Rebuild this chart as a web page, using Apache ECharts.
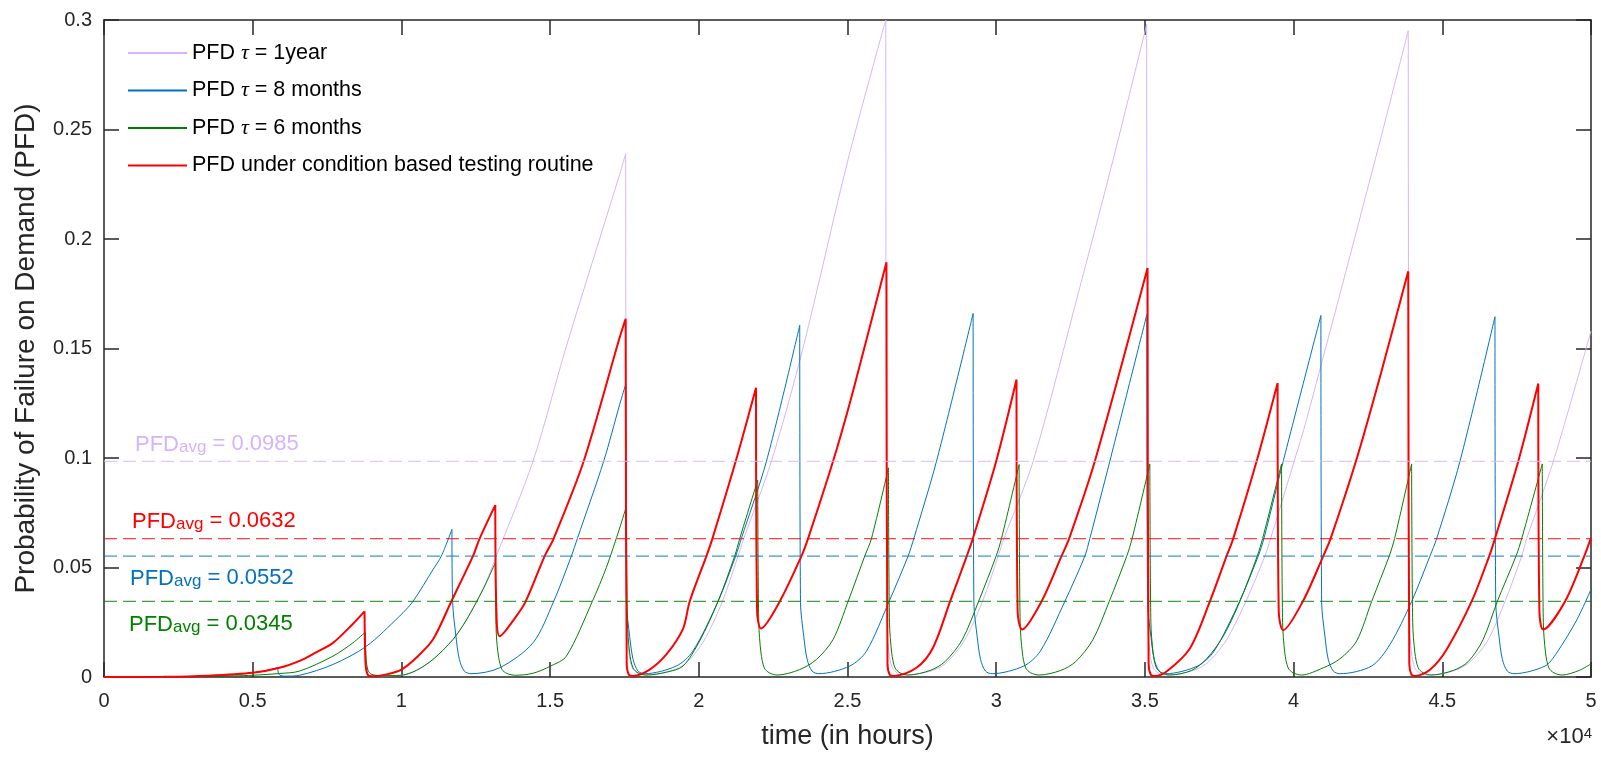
<!DOCTYPE html>
<html>
<head>
<meta charset="utf-8">
<title>PFD</title>
<script src="https://cdn.jsdelivr.net/npm/echarts@6/dist/echarts.min.js"></script>
<style>
html, body { margin: 0; padding: 0; background: #fff; }
#main { width: 1601px; height: 757px; }
</style>
</head>
<body>
<div id="main"></div>
<script>
// time in hours, PFD values
// '-' breaks the line at each test so the smoothing does not round the peaks
var lavenderData = [
	[0,0],[2000,0.0001],[3500,0.0006],[5000,0.0019],[5900,0.0042],[6600,0.0075],[7100,0.011],[7700,0.0156],[8350,0.024],[8760,0.030],[8760,'-'],
	[8760,0.030],[8795,0.008],[8870,0.003],[9000,0.0012],[9300,0.0006],
	[9996,0.0008],[10500,0.003],[11060,0.008],[11733,0.0171],[12183,0.026],[12743,0.040],[13190,0.0552],[14424,0.0985],[15547,0.151],[17339,0.2295],[17541,0.2389],[17541,'-'],
	[17541,0.2389],[17576,0.025],[17650,0.011],[17760,0.0042],[17930,0.0019],[18210,0.0009],
	[19000,0.0025],[19541,0.006],[20150,0.016],[20793,0.0345],[21319,0.0552],[21510,0.0632],[22442,0.0985],[23500,0.150],[25019,0.2363],[26287,0.300],[26287,'-'],
	[26287,0.300],[26322,0.025],[26397,0.011],[26507,0.0042],[26677,0.0019],[26957,0.0009],
	[27740,0.0025],[28280,0.006],[28900,0.016],[29540,0.0345],[30066,0.0552],[30257,0.0632],[31242,0.0985],[32812,0.178],[33933,0.2363],[35060,0.298],[35060,'-'],
	[35060,0.298],[35095,0.025],[35170,0.011],[35280,0.0042],[35450,0.0019],[35730,0.0009],
	[36510,0.0025],[37060,0.006],[37700,0.016],[38395,0.0345],[39034,0.0552],[39226,0.0632],[40020,0.0985],[40437,0.1176],[42745,0.2363],[43855,0.2951],[43855,'-'],
	[43855,0.2951],[43890,0.025],[43965,0.011],[44075,0.0042],[44245,0.0019],[44525,0.0009],
	[45300,0.0025],[45855,0.006],[46500,0.016],[47108,0.0345],[47670,0.0552],[47838,0.0632],[48734,0.0985],[50000,0.158]
];

var blueData = [
	[0,0],[3000,0.0002],[4500,0.0012],[5300,0.0025],[5840,0.0042],[5840,'-'],
	[5840,0.0042],[5870,0.0015],[5950,0.0006],[6100,0.0004],
	[6576,0.0008],[7696,0.0057],[8819,0.014],[9939,0.0278],[10387,0.0345],[11060,0.049],[11342,0.0552],[11699,0.0674],[11699,'-'],
	[11699,0.0674],[11724,0.034],[11834,0.0186],[11949,0.008],[12114,0.0027],[12339,0.0015],
	[13303,0.0042],[14424,0.0156],[15120,0.0345],[15714,0.0552],[15916,0.0632],[16801,0.0985],[17339,0.1244],[17541,0.1336],[17541,'-'],
	[17541,0.1336],[17566,0.034],[17676,0.0186],[17791,0.008],[17956,0.0027],[18181,0.0015],
	[19241,0.005],[19801,0.0118],[20646,0.0345],[21240,0.0552],[21430,0.0632],[22274,0.0985],[23394,0.1606],[23394,'-'],
	[23394,0.1606],[23419,0.034],[23529,0.0186],[23644,0.008],[23809,0.0027],[24034,0.0015],
	[25077,0.005],[25637,0.0118],[26398,0.0345],[27037,0.0552],[27229,0.0632],[27992,0.0985],[29224,0.166],[29224,'-'],
	[29224,0.166],[29249,0.034],[29359,0.0186],[29474,0.008],[29639,0.0027],[29864,0.0015],
	[30924,0.005],[31484,0.0118],[32307,0.0345],[32980,0.0552],[33148,0.0632],[33820,0.0985],[35066,0.1655],[35066,'-'],
	[35066,0.1655],[35091,0.034],[35201,0.0186],[35316,0.008],[35481,0.0027],[35706,0.0015],
	[36766,0.005],[37326,0.0118],[38180,0.0345],[38810,0.0552],[39001,0.0632],[39650,0.0985],[40918,0.1651],[40918,'-'],
	[40918,0.1651],[40943,0.034],[41054,0.0186],[41166,0.008],[41334,0.0027],[41558,0.0015],
	[42620,0.005],[43239,0.0148],[43969,0.0345],[44585,0.0552],[44810,0.0632],[45594,0.0985],[46771,0.1645],[46771,'-'],
	[46771,0.1645],[46796,0.034],[46906,0.0186],[47021,0.008],[47186,0.0027],[47411,0.0015],
	[48454,0.005],[48846,0.011],[49519,0.026],[50000,0.040]
];

var greenData = [
	[0,0],[3000,0.0002],[4380,0.0005],[5000,0.0008],[5900,0.0016],[6576,0.0027],[7696,0.0095],[8369,0.0156],[8786,0.0205],[8786,'-'],
	[8786,0.0205],[8815,0.008],[8880,0.003],[9000,0.0012],[9300,0.0006],
	[9996,0.0008],[10500,0.003],[11060,0.008],[11733,0.0171],[12183,0.026],[12743,0.040],[13157,0.0521],[13157,'-'],
	[13157,0.0521],[13190,0.02],[13270,0.009],[13380,0.0035],[13550,0.0016],[13830,0.0008],
	[14424,0.0017],[15019,0.005],[15547,0.0095],[16420,0.0345],[16891,0.050],[17339,0.068],[17564,0.078],[17564,'-'],
	[17564,0.078],[17600,0.025],[17675,0.011],[17785,0.0042],[17955,0.0019],[18235,0.0009],
	[18909,0.0022],[19469,0.005],[20030,0.0165],[20646,0.0345],[21207,0.0552],[21376,0.0632],[21981,0.0899],[21981,'-'],
	[21981,0.0899],[22016,0.025],[22091,0.011],[22201,0.0042],[22371,0.0019],[22651,0.0009],
	[23394,0.0034],[23955,0.008],[24514,0.0171],[25019,0.0345],[25580,0.0552],[25805,0.0632],[26377,0.0955],[26377,'-'],
	[26377,0.0955],[26412,0.025],[26487,0.011],[26597,0.0042],[26767,0.0019],[27047,0.0009],
	[27777,0.003],[28277,0.007],[28857,0.017],[29407,0.0345],[29997,0.0552],[30177,0.0632],[30770,0.097],[30770,'-'],
	[30770,0.097],[30805,0.025],[30880,0.011],[30990,0.0042],[31160,0.0019],[31440,0.0009],
	[32170,0.003],[32670,0.007],[33250,0.017],[33800,0.0345],[34390,0.0552],[34570,0.0632],[35166,0.0973],[35166,'-'],
	[35166,0.0973],[35201,0.025],[35276,0.011],[35386,0.0042],[35556,0.0019],[35836,0.0009],
	[36570,0.003],[37073,0.0083],[37633,0.0186],[38194,0.0345],[38777,0.0552],[38957,0.0632],[39595,0.0973],[39595,'-'],
	[39595,0.0973],[39630,0.025],[39705,0.011],[39815,0.0042],[39985,0.0019],[40265,0.0009],
	[40997,0.0042],[41558,0.0083],[42118,0.0164],[42625,0.0345],[43215,0.0552],[43395,0.0632],[43969,0.0973],[43969,'-'],
	[43969,0.0973],[44004,0.025],[44079,0.011],[44189,0.0042],[44359,0.0019],[44639,0.0009],
	[45369,0.003],[45869,0.007],[46369,0.017],[46849,0.0345],[47478,0.0552],[47670,0.0632],[48362,0.0973],[48362,'-'],
	[48362,0.0973],[48397,0.025],[48472,0.011],[48582,0.0042],[48752,0.0019],[49032,0.0009],
	[49600,0.003],[50000,0.006]
];

var redData = [
	[0,0],[2000,0.0001],[3500,0.0006],[5000,0.0019],[5900,0.0042],[6600,0.0075],[7100,0.011],[7700,0.0156],[8350,0.024],[8760,0.030],[8760,'-'],
	[8760,0.030],[8795,0.006],[8870,0.001],[9000,0.0003],
	[9500,0.0012],[10000,0.0034],[10500,0.0088],[11060,0.0171],[11678,0.0345],[12405,0.0552],[12630,0.0632],[13157,0.0785],[13157,'-'],
	[13157,0.0785],[13195,0.030],[13303,0.0186],[13865,0.0278],[14178,0.0345],[14817,0.0552],[15120,0.0632],[16129,0.0985],[17339,0.155],[17541,0.1636],[17541,'-'],
	[17541,0.1636],[17576,0.006],[17650,0.001],[17790,0.0005],
	[18348,0.0034],[18909,0.0103],[19469,0.022],[19694,0.0345],[20256,0.0552],[20457,0.0632],[21241,0.0985],[21924,0.1321],[21924,'-'],
	[21924,0.1321],[21960,0.030],[22092,0.0222],[22721,0.0345],[23451,0.0552],[23673,0.0632],[24514,0.0985],[25077,0.125],[25637,0.154],[26310,0.1894],[26310,'-'],
	[26310,0.1894],[26345,0.006],[26420,0.001],[26560,0.0005],
	[27319,0.0042],[27879,0.0135],[28450,0.0345],[29010,0.0552],[29215,0.0632],[30000,0.0985],[30683,0.1358],[30683,'-'],
	[30683,0.1358],[30720,0.030],[30871,0.0217],[31523,0.0345],[32196,0.0552],[32452,0.0632],[33316,0.0985],[35089,0.1868],[35089,'-'],
	[35089,0.1868],[35124,0.006],[35200,0.001],[35340,0.0005],
	[35729,0.0025],[36512,0.013],[37185,0.0345],[37746,0.0552],[37970,0.0632],[38756,0.0985],[39462,0.1343],[39462,'-'],
	[39462,0.1343],[39500,0.030],[39651,0.0214],[40310,0.0345],[40997,0.0552],[41244,0.0632],[42096,0.0985],[42903,0.137],[43855,0.1853],[43855,'-'],
	[43855,0.1853],[43890,0.006],[43965,0.001],[44100,0.0005],
	[44585,0.0033],[45146,0.0126],[45986,0.0345],[46578,0.0552],[46771,0.0632],[47555,0.0985],[48227,0.134],[48227,'-'],
	[48227,0.134],[48265,0.030],[48395,0.0217],[49126,0.0345],[49775,0.0552],[50000,0.0635]
];

var seriesNames = ['PFD \u03c4 = 1year', 'PFD \u03c4 = 8 months', 'PFD \u03c4 = 6 months', 'PFD under condition based testing routine'];
var seriesColors = ['#d4b4ff', '#0072bd', '#008000', '#ff0000'];

// average PFD lines, same order as the series
var avgValues = [0.0985, 0.0552, 0.0345, 0.0632];
var avgLabels = ['0.0985', '0.0552', '0.0345', '0.0632'];

var xTickLabels = ['0', '0.5', '1', '1.5', '2', '2.5', '3', '3.5', '4', '4.5', '5'];
var yTickLabels = ['0', '0.05', '0.1', '0.15', '0.2', '0.25', '0.3'];

var fontFam = "'Liberation Sans', Arial, Helvetica, sans-serif";
var axisColor = '#262626';

var myChart = echarts.init(document.getElementById('main'), null, {renderer: 'canvas'});

var lineData = [lavenderData, blueData, greenData, redData];
var series = [];
for (var i = 0; i < lineData.length; i++) {
	series.push({
		name: seriesNames[i],
		type: 'line',
		data: lineData[i],
		showSymbol: false,
		symbol: 'none',
		smooth: 0.3,
		connectNulls: false,
		color: seriesColors[i],
		lineStyle: {width: i == 3 ? 2 : 1, color: seriesColors[i]},
		animation: false,
		silent: true
	});
}
for (var k = 0; k < avgValues.length; k++) {
	series.push({
		name: 'avg' + k,
		type: 'line',
		data: [[0, avgValues[k]], [50000, avgValues[k]]],
		showSymbol: false,
		symbol: 'none',
		lineStyle: {width: 1.2, color: seriesColors[k], type: [13, 6], opacity: 0.75},
		animation: false,
		silent: true
	});
}

// PFD_avg labels, placed by hand like the text() calls of the figure
var labelPos = [[135, 422], [130, 556], [129, 602], [132, 499]];
var graphics = [];
for (var m = 0; m < avgLabels.length; m++) {
	graphics.push({
		type: 'text',
		left: labelPos[m][0],
		top: labelPos[m][1],
		style: {
			text: 'PFD{sub|avg}{main| = ' + avgLabels[m] + '}',
			fill: seriesColors[m],
			font: '22px ' + fontFam,
			rich: {
				main: {fontSize: 22, lineHeight: 23, verticalAlign: 'top', fontFamily: fontFam},
				sub: {fontSize: 17, lineHeight: 17, padding: [17, 0, 0, 0], verticalAlign: 'bottom', fontFamily: fontFam}
			},
			lineHeight: 23,
			verticalAlign: 'top'
		}
	});
}
graphics.push({
	type: 'text',
	right: 9,
	top: 726,
	style: {
		text: '\u00d710{sup|4}',
		fill: axisColor,
		font: '22px ' + fontFam,
		rich: {
			sup: {fontSize: 15, lineHeight: 15, verticalAlign: 'top', fontFamily: fontFam}
		},
		verticalAlign: 'top'
	}
});

var axisLineStyle = {show: true, onZero: false, lineStyle: {color: axisColor, width: 1.5}};
var axisTickStyle = {show: true, inside: true, length: 15, lineStyle: {color: axisColor, width: 1.5}};

var option = {
	backgroundColor: '#ffffff',
	animation: false,
	grid: {left: 104, right: 10, top: 20, bottom: 80, containLabel: false},
	legend: {
		data: seriesNames,
		orient: 'vertical',
		left: 128,
		top: 41,
		padding: 0,
		itemGap: 13.5,
		itemWidth: 59,
		itemHeight: 2,
		icon: 'rect',
		formatter: function (name) { return name.replace('\u03c4', '{t|\u03c4}'); },
		textStyle: {
			fontSize: 21.5, fontFamily: fontFam, color: '#000', lineHeight: 24,
			rich: {
				t: {fontSize: 22, fontFamily: "'Liberation Serif', 'DejaVu Serif', serif", fontStyle: 'italic', color: '#000', lineHeight: 24}
			}
		}
	},
	xAxis: [{
		type: 'value',
		min: 0,
		max: 50000,
		interval: 5000,
		name: 'time (in hours)',
		nameLocation: 'middle',
		nameGap: 46,
		nameTextStyle: {fontSize: 27, fontFamily: fontFam, color: axisColor},
		axisLine: axisLineStyle,
		axisTick: axisTickStyle,
		axisLabel: {
			margin: 14,
			fontSize: 20,
			fontFamily: fontFam,
			color: axisColor,
			formatter: function (v) { return xTickLabels[Math.round(v / 5000)]; }
		},
		splitLine: {show: false}
	}, {
		type: 'value',
		position: 'top',
		min: 0,
		max: 50000,
		interval: 5000,
		axisLine: axisLineStyle,
		axisTick: axisTickStyle,
		axisLabel: {show: false},
		splitLine: {show: false}
	}],
	yAxis: [{
		type: 'value',
		min: 0,
		max: 0.3,
		interval: 0.05,
		name: 'Probability of Failure on Demand (PFD)',
		nameLocation: 'middle',
		nameGap: 64,
		nameTextStyle: {fontSize: 28, fontFamily: fontFam, color: axisColor},
		axisLine: axisLineStyle,
		axisTick: axisTickStyle,
		axisLabel: {
			margin: 12,
			fontSize: 20,
			fontFamily: fontFam,
			color: axisColor,
			formatter: function (v) { return yTickLabels[Math.round(v / 0.05)]; }
		},
		splitLine: {show: false}
	}, {
		type: 'value',
		position: 'right',
		min: 0,
		max: 0.3,
		interval: 0.05,
		axisLine: axisLineStyle,
		axisTick: axisTickStyle,
		axisLabel: {show: false},
		splitLine: {show: false}
	}],
	graphic: graphics,
	series: series
};

myChart.setOption(option);
</script>
</body>
</html>
